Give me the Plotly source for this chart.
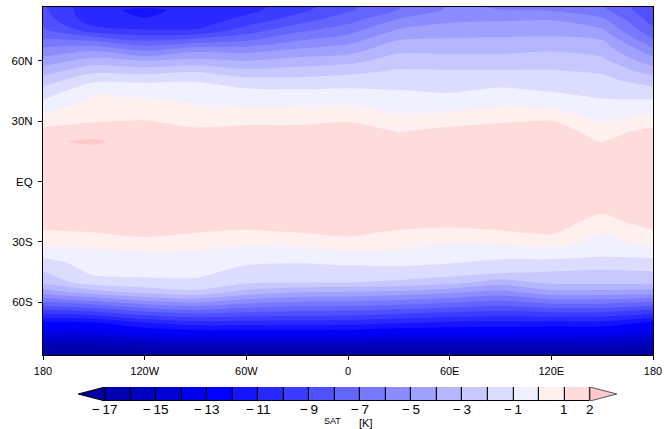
import numpy as np
import plotly.graph_objects as go

# ---------------- data ----------------
lons = [-180, -150, -120, -90, -60, -30, 0, 30, 60, 90, 120, 150, 180]
lats = [90, 85, 80, 75, 70, 65, 60, 55, 50, 45, 40, 35, 30, 25, 20, 15, 10, 0,
        -10, -15, -20, -25, -30, -35, -40, -45, -50, -55, -60, -65, -70, -75, -80, -85, -90]

# SAT [K] profiles (north -> south) for each longitude
sat_180w = [-9.0, -8.8, -8.4, -7.8, -6.8, -5.6, -4.6, -3.5, -2.5, -1.6, -0.9, -0.2, 0.55, 1.3, 1.85, 1.5, 1.5, 1.5,
            1.5, 1.5, 1.5, 0.87, 0.36, -0.45, -1.39, -2.05, -2.71, -4.55, -7.15, -9.72, -12.15, -13.6, -15.6, -17.4, -18.5]
sat_150w = [-10.6, -10.8, -10.6, -9.5, -7.05, -5.05, -3.55, -2.3, -1.15, -0.25, 0.3, 0.6, 0.95, 1.4, 2.15, 1.7, 1.5, 1.5,
            1.5, 1.5, 1.5, 1.05, 0.34, -0.17, -0.48, -0.79, -1.41, -3.49, -6.37, -9.24, -12.05, -13.6, -15.6, -17.4, -18.5]
sat_120w = [-10.4, -11.15, -10.95, -9.9, -8.05, -6.05, -4.05, -2.45, -1.15, -0.4, 0.2, 0.6, 1.05, 1.4, 1.5, 1.5, 1.5, 1.5,
            1.5, 1.5, 1.5, 1.3, 0.73, -0.05, -0.38, -0.73, -1.24, -2.71, -5.46, -8.2, -10.96, -12.94, -15.14, -17.4, -18.5]
sat_90w = [-10.6, -10.8, -10.6, -9.9, -7.5, -5.2, -3.7, -2.15, -1.05, -0.6, -0.15, 0.3, 0.75, 1.15, 1.5, 1.5, 1.5, 1.5,
           1.5, 1.5, 1.5, 1.05, 0.47, -0.07, -0.41, -0.74, -1.21, -2.27, -4.97, -7.68, -10.38, -12.6, -14.85, -17.35, -18.5]
sat_60w = [-10.5, -10.3, -9.6, -8.5, -7.05, -5.3, -4.05, -2.75, -1.6, -0.8, -0.3, 0.2, 0.8, 1.3, 1.5, 1.5, 1.5, 1.5,
           1.5, 1.5, 1.5, 0.87, 0.2, -0.35, -0.85, -1.33, -1.81, -3.4, -5.72, -8.05, -10.37, -12.6, -14.9, -17.4, -18.5]
sat_30w = [-9.6, -9.3, -8.4, -7.25, -6.05, -4.75, -3.6, -2.6, -1.65, -0.9, -0.3, 0.25, 0.8, 1.3, 1.5, 1.5, 1.5, 1.5,
           1.5, 1.5, 1.5, 1.05, 0.34, -0.33, -0.94, -1.45, -1.95, -3.96, -6.13, -8.3, -10.48, -12.6, -14.9, -17.4, -18.5]
sat_0 = [-8.4, -8.15, -7.35, -6.4, -5.4, -4.4, -3.35, -2.3, -1.55, -0.8, -0.2, 0.4, 0.95, 1.45, 1.5, 1.5, 1.5, 1.5,
         1.5, 1.5, 1.5, 1.3, 0.65, -0.1, -0.8, -1.41, -1.95, -4.1, -6.23, -8.37, -10.5, -12.6, -14.9, -17.4, -18.5]
sat_30e = [-7.3, -6.95, -5.8, -4.85, -3.95, -3.2, -2.5, -1.9, -1.55, -0.95, -0.6, -0.15, 0.4, 0.95, 1.5, 1.5, 1.5, 1.5,
           1.5, 1.5, 1.6, 0.86, 0.38, -0.13, -0.75, -1.39, -2.17, -4.34, -6.5, -8.66, -10.83, -12.9, -15.1, -17.4, -18.5]
sat_60e = [-6.1, -5.8, -5.15, -4.5, -3.85, -3.2, -2.6, -1.95, -1.55, -1.1, -0.6, -0.05, 0.6, 1.3, 1.5, 1.5, 1.5, 1.5,
           1.5, 1.5, 1.5, 0.63, 0.05, -0.45, -0.91, -1.53, -2.64, -4.77, -6.89, -9.05, -11.15, -12.95, -15.1, -17.4, -18.5]
sat_90e = [-6.5, -5.95, -5.05, -4.4, -3.8, -3.2, -2.6, -1.95, -1.4, -0.8, -0.3, 0.25, 0.9, 1.4, 1.5, 1.5, 1.5, 1.5,
           1.5, 1.5, 1.5, 0.92, 0.19, -0.51, -1.2, -1.84, -3.44, -5.39, -7.33, -9.28, -11.22, -12.95, -15.1, -17.4, -18.5]
sat_120e = [-6.5, -6.05, -4.95, -4.4, -3.7, -3.05, -2.5, -1.95, -1.5, -1.05, -0.45, 0.15, 1.05, 1.45, 1.5, 1.5, 1.5, 1.5,
            1.5, 1.5, 1.5, 1.2, 0.47, -0.37, -1.26, -2.05, -2.73, -4.38, -6.69, -9.05, -11.3, -13.05, -15.1, -17.4, -18.5]
sat_150e = [-7.2, -6.75, -5.7, -4.85, -3.95, -3.4, -2.75, -2.15, -1.7, -1.3, -0.9, -0.45, -0.05, 0.6, 0.95, 1.4, 1.5, 1.5,
            1.5, 1.1, 0.62, 0.06, -0.35, -0.73, -1.31, -2.18, -2.71, -4.38, -6.69, -9.05, -11.3, -13.05, -15.1, -17.4, -18.5]
sat_180e = sat_180w  # same meridian

columns = [sat_180w, sat_150w, sat_120w, sat_90w, sat_60w, sat_30w, sat_0,
           sat_30e, sat_60e, sat_90e, sat_120e, sat_150e, sat_180e]

level_start, level_end, level_step = -17, 2, 1
band_colors = ["#0000a0", "#0000b0", "#0000c0", "#0000d4", "#0000ea", "#0000ff",
               "#1414ff", "#2828ff", "#3c3cff", "#5050ff", "#6464ff", "#7878ff",
               "#8c8cff", "#a0a0ff", "#b4b4ff", "#c8c8ff", "#dcdcff", "#f0f0ff",
               "#fff0f0", "#ffdcdc", "#ffc8c8"]

x_tickvals = [-180, -120, -60, 0, 60, 120, 180]
x_ticktext = ["180", "120W", "60W", "0", "60E", "120E", "180"]
y_tickvals = [-60, -30, 0, 30, 60]
y_ticktext = ["60S", "30S", "EQ", "30N", "60N"]
cb_tickvals = [-17, -15, -13, -11, -9, -7, -5, -3, -1, 1, 2]
cb_ticktext = ["\u2212\u200917", "\u2212\u200915", "\u2212\u200913", "\u2212\u200911",
               "\u2212\u20099", "\u2212\u20097", "\u2212\u20095", "\u2212\u20093",
               "\u2212\u20091", "1", "2"]

# ---------------- figure ----------------
z = np.array(columns, dtype=float).T[::-1]
lat_arr = np.array(lats, dtype=float)[::-1]

n = len(band_colors) - 1
colorscale = []
for k, c in enumerate(band_colors):
    colorscale.append([max(0.0, (k - 0.5) / n), c])
    colorscale.append([min(1.0, (k + 0.5) / n), c])

FONT = "Liberation Sans, Arial, sans-serif"
fig = go.Figure()
fig.add_trace(go.Contour(
    x=lons, y=lat_arr, z=z,
    autocontour=False,
    contours=dict(start=level_start, end=level_end, size=level_step,
                  coloring="fill", showlines=False),
    line=dict(width=0, smoothing=0.8),
    colorscale=colorscale, showscale=False, hoverinfo="skip",
    xaxis="x", yaxis="y"))

# colour bar drawn on its own axis
bounds = np.arange(level_start, level_end + level_step, level_step)
mids = (bounds[:-1] + bounds[1:]) / 2
fig.add_trace(go.Bar(
    x=mids, y=[1] * len(mids), base=0, width=level_step,
    marker=dict(color=band_colors[1:-1], line=dict(color="black", width=1)),
    xaxis="x2", yaxis="y2", hoverinfo="skip", showlegend=False))
tip = 1.05 * level_step
fig.add_trace(go.Scatter(
    x=[level_start, level_start, level_start - tip, level_start],
    y=[0, 1, 0.5, 0], fill="toself", fillcolor=band_colors[0],
    line=dict(color="black", width=1), mode="lines",
    xaxis="x2", yaxis="y2", hoverinfo="skip", showlegend=False))
fig.add_trace(go.Scatter(
    x=[level_end, level_end, level_end + tip, level_end],
    y=[0, 1, 0.5, 0], fill="toself", fillcolor=band_colors[-1],
    line=dict(color="#555555", width=1), mode="lines",
    xaxis="x2", yaxis="y2", hoverinfo="skip", showlegend=False))

W, H = 667, 429
annotations = [
    dict(text=t, x=v, xref="x2", y=1 - 409 / H, yref="paper", yanchor="middle",
         showarrow=False, font=dict(size=13.5, family=FONT, color="black"))
    for v, t in zip(cb_tickvals, cb_ticktext)
]
annotations += [
    dict(text="SAT", x=332 / W, y=1 - 421 / H, xref="paper", yref="paper",
         yanchor="middle", showarrow=False, font=dict(size=9, family=FONT)),
    dict(text="[K]", x=365 / W, y=1 - 422.5 / H, xref="paper", yref="paper",
         yanchor="middle", showarrow=False, font=dict(size=11, family=FONT)),
]

fig.update_layout(
    width=W, height=H, autosize=False,
    margin=dict(l=0, r=0, t=0, b=0, autoexpand=False),
    paper_bgcolor="white", plot_bgcolor="white",
    showlegend=False, bargap=0,
    font=dict(family=FONT, color="black"),
    xaxis=dict(domain=[43 / W, 653 / W], range=[-180, 180],
               tickvals=x_tickvals, ticktext=x_ticktext,
               ticks="outside", ticklen=4, tickwidth=1, tickcolor="black",
               showline=True, linecolor="black", linewidth=1, mirror=True,
               showgrid=False, zeroline=False, tickfont=dict(size=11, family=FONT),
               ticklabelstandoff=2, automargin=False, anchor="y"),
    yaxis=dict(domain=[1 - 355 / H, 1 - 7 / H], range=[-86.15, 86.65],
               tickvals=y_tickvals, ticktext=y_ticktext,
               ticks="outside", ticklen=4, tickwidth=1, tickcolor="black",
               showline=True, linecolor="black", linewidth=1, mirror=True,
               showgrid=False, zeroline=False, tickfont=dict(size=11.5, family=FONT),
               ticklabelstandoff=3, automargin=False, anchor="x"),
    xaxis2=dict(domain=[76.9 / W, 618.1 / W], range=[-18.1, 3.1],
                showticklabels=False, ticks="",
                showline=False, showgrid=False, zeroline=False,
                automargin=False, anchor="y2"),
    yaxis2=dict(domain=[1 - 401 / H, 1 - 387 / H], range=[0, 1],
                showticklabels=False, showgrid=False, zeroline=False,
                showline=False, automargin=False, anchor="x2"),
    annotations=annotations,
)

fig.write_html("out.html")
